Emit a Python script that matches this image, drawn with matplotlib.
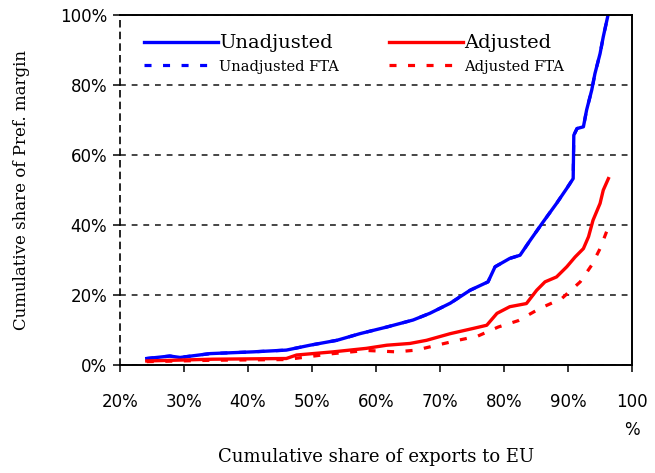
import matplotlib
matplotlib.use("Agg")
import matplotlib.pyplot as plt

# ── data (in %) ──────────────────────────────────────────────────────────────
unadj_x = [24.2, 27.8, 29.4, 34.1, 40.8, 46.0, 49.7, 53.9, 57.5, 61.7, 65.8, 68.4,
           71.6, 74.7, 77.5, 78.6, 80.9, 82.5, 84.1, 86.1, 88.2, 89.8, 90.8, 90.9,
           91.4, 92.4, 92.9, 93.7, 94.2, 95.0, 95.5, 96.3]
unadj_y = [1.9, 2.6, 2.2, 3.3, 3.8, 4.3, 5.7, 7.1, 9.0, 10.9, 12.9, 14.8,
           17.7, 21.4, 23.8, 28.1, 30.5, 31.4, 35.7, 40.9, 46.2, 50.5, 53.3, 65.7,
           67.6, 68.1, 72.9, 78.6, 83.3, 89.0, 93.8, 100.5]

# Unadjusted FTA sits underneath the Unadjusted curve
unadj_fta_x = unadj_x
unadj_fta_y = unadj_y

adj_x = [24.2, 34.5, 46.0, 47.6, 53.3, 58.5, 61.7, 65.3, 67.9, 71.6, 75.2, 77.3,
         78.9, 80.9, 83.5, 85.1, 86.4, 88.2, 89.8, 91.1, 92.4, 93.2, 93.9, 95.0,
         95.5, 96.3]
adj_y = [1.2, 1.7, 1.9, 2.9, 3.8, 4.8, 5.7, 6.2, 7.1, 9.0, 10.5, 11.4,
         14.8, 16.7, 17.6, 21.4, 23.8, 25.2, 28.1, 30.9, 33.3, 36.7, 41.4, 46.2,
         50.0, 53.3]

adj_fta_x = [24.2, 34.5, 46.0, 53.3, 58.5, 63.2, 66.3, 69.5, 72.8, 75.9, 79.1,
             82.2, 85.6, 89.0, 91.9, 93.7, 95.0, 96.2]
adj_fta_y = [1.0, 1.4, 1.6, 3.3, 4.2, 3.8, 4.3, 5.7, 7.1, 8.3, 10.9,
             12.7, 16.2, 19.0, 23.8, 28.6, 33.3, 39.0]

x_ticks = [20, 30, 40, 50, 60, 70, 80, 90, 100]
x_ticklabels = ["20%", "30%", "40%", "50%", "60%", "70%", "80%", "90%", "100\n%"]
y_ticks = [0, 20, 40, 60, 80, 100]
y_ticklabels = ["0%", "20%", "40%", "60%", "80%", "100%"]

plt.rcParams.update({
    "font.family": "DejaVu Serif",
    "font.size": 12,
})

fig = plt.figure(figsize=(6.55, 4.73), dpi=100)
ax = fig.add_axes([0.183, 0.228, 0.782, 0.740])

dots = (0, (2.2, 3.6))
ax.plot(unadj_fta_x, unadj_fta_y, color="blue", lw=2.3, ls=dots, label="Unadjusted FTA")
ax.plot(adj_fta_x, adj_fta_y, color="red", lw=2.3, ls=dots, label="Adjusted FTA")
ax.plot(unadj_x, unadj_y, color="blue", lw=2.4, label="Unadjusted")
ax.plot(adj_x, adj_y, color="red", lw=2.4, label="Adjusted")

ax.set_xlim(20, 100)
ax.set_ylim(0, 100)
ax.set_xticks(x_ticks)
ax.set_xticklabels(x_ticklabels, fontsize=12, family="DejaVu Sans", linespacing=1.75,
                   va="top")
ax.set_yticks(y_ticks)
ax.set_yticklabels(y_ticklabels, fontsize=12, family="DejaVu Sans")
ax.tick_params(direction="out", length=5, width=1.1, color="black")
ax.tick_params(axis="x", pad=15)
ax.tick_params(axis="y", pad=4)

ax.yaxis.grid(True, color="black", lw=1.2, ls=(0, (3.5, 3.5)), alpha=0.85)
ax.set_axisbelow(True)
for side in ["top", "right", "bottom"]:
    ax.spines[side].set_linewidth(1.4)
ax.spines["left"].set_linestyle((0, (3.5, 3.5)))
ax.spines["left"].set_linewidth(1.2)

ax.set_xlabel("Cumulative share of exports to EU", fontsize=13, labelpad=6)
ax.set_ylabel("Cumulative share of Pref. margin", fontsize=12, labelpad=22)

h, l = ax.get_legend_handles_labels()
order = [2, 0, 3, 1]
leg = ax.legend([h[i] for i in order], [l[i] for i in order], ncol=2, frameon=False,
                loc="upper left", bbox_to_anchor=(0.025, 0.98), handlelength=4.4,
                handletextpad=0.1, columnspacing=3.0, labelspacing=0.45,
                borderaxespad=0.3)
texts = leg.get_texts()
texts[0].set_fontsize(14)
texts[1].set_fontsize(10.5)
texts[2].set_fontsize(14)
texts[3].set_fontsize(10.5)

fig.savefig("out.png", dpi=100)
